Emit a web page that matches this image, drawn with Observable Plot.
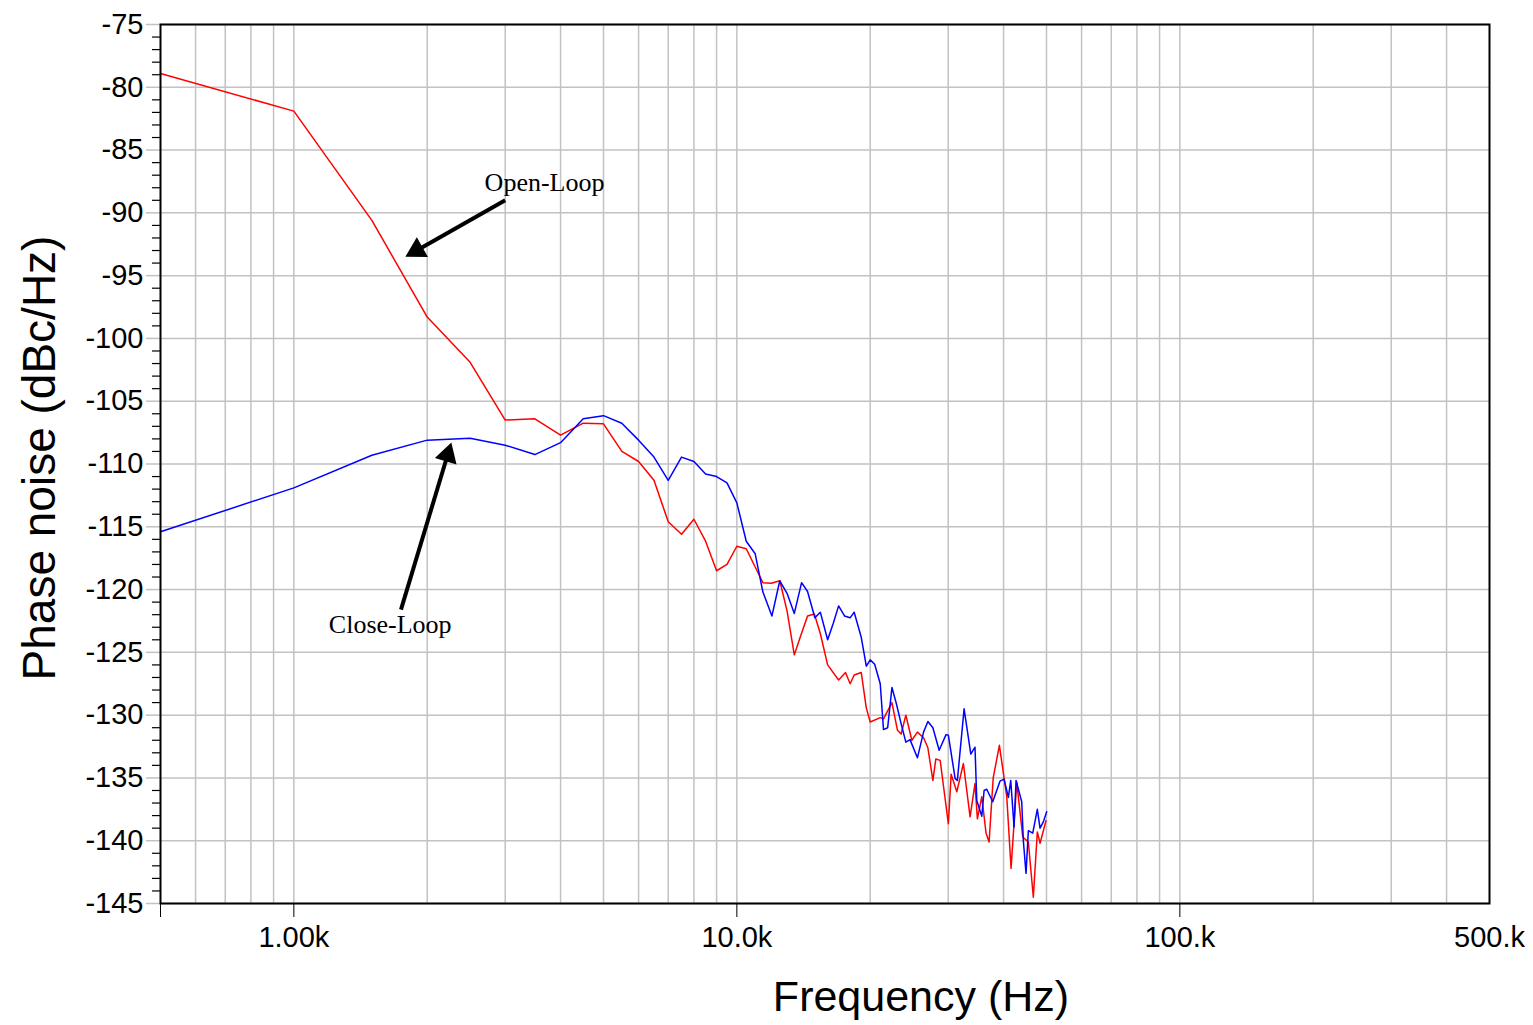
<!DOCTYPE html>
<html>
<head>
<meta charset="utf-8">
<script src="https://cdn.jsdelivr.net/npm/d3@7"></script>
<script src="https://cdn.jsdelivr.net/npm/@observablehq/plot@0.6"></script>
<style>html,body{margin:0;padding:0;background:#fff;}</style>
</head>
<body>
<div id="chart"></div>
<script>
// ---------- data ----------
const openFreq = [500,1000,1500,2000,2500,3000,3500,4000,4500,5000,5500,6000,6500,7000,7500,8000,8500,9000,9500,10000,
  10500,11000,11450,11960,12500,12980,13480,13910,14440,14960,15430,16030,16970,17590,18020,18400,19090,19590,20000,21070,
  21430,22390,23040,23490,24070,24830,25560,26390,26990,27700,28130,28770,30020,30460,31370,32460,33610,34480,34910,35720,
  36520,37100,37900,39140,40670,41590,42840,44190,45500,46690,47670,48350,49870];
const openNoise = [-78.9,-81.9,-90.6,-98.3,-101.9,-106.5,-106.4,-107.7,-106.75,-106.8,-109.0,-109.8,-111.3,-114.6,-115.6,-114.4,-116.15,-118.5,-118.0,-116.55,
  -116.75,-118.2,-119.45,-119.5,-119.3,-121.7,-125.2,-123.75,-122.1,-121.95,-123.5,-126.0,-127.2,-126.6,-127.5,-126.8,-126.6,-129.4,-130.55,-130.2,
  -130.3,-129.0,-131.2,-131.5,-130.0,-132.0,-131.35,-131.8,-132.6,-135.2,-133.5,-133.6,-138.65,-134.7,-136.1,-133.85,-138.1,-135.45,-138.25,-136.5,
  -139.4,-140.1,-135.0,-132.4,-136.5,-142.2,-135.35,-139.7,-140.1,-144.5,-139.3,-140.2,-138.4];

const closeFreq = [500,1000,1500,2000,2500,3000,3500,4000,4500,5000,5500,6000,6500,7000,7500,8000,8500,9000,9500,10000,
  10500,11000,11450,12000,12500,12980,13480,14000,14440,15000,15430,16030,16500,16970,17500,18020,18400,19090,19600,20000,
  20470,21070,21430,21900,22390,22900,23490,24070,24600,25560,26390,26990,27700,28620,29660,30020,31100,31460,32580,33740,
  34480,34800,35720,36150,36650,37810,39280,40100,41010,41520,42240,42680,43960,44330,44950,45500,46550,47670,48350,49180,50050];
const closeNoise = [-115.4,-111.9,-109.3,-108.1,-107.95,-108.5,-109.25,-108.3,-106.4,-106.15,-106.75,-108.1,-109.45,-111.3,-109.45,-109.8,-110.8,-111.0,-111.5,-113.1,
  -116.15,-117.15,-120.2,-122.1,-119.3,-120.3,-121.9,-119.45,-120.15,-122.25,-121.8,-124.0,-122.7,-121.3,-122.1,-122.25,-121.8,-123.8,-126.1,-125.6,
  -125.95,-127.5,-131.15,-131.0,-127.8,-129.05,-130.7,-132.15,-131.95,-133.4,-131.35,-130.5,-131.0,-132.8,-131.55,-131.6,-135.05,-135.2,-129.5,-133.1,
  -132.55,-136.8,-138.05,-136.0,-135.9,-136.9,-135.25,-135.1,-136.55,-135.2,-138.9,-135.2,-136.9,-140.0,-142.6,-139.2,-139.4,-137.5,-139.0,-138.5,-137.7];

// axes / ticks
const xDomain = [500, 500000];
const yDomain = [-145, -75];
const gridFreqs = [600,700,800,900,1000,2000,3000,4000,5000,6000,7000,8000,9000,10000,
  20000,30000,40000,50000,60000,70000,80000,90000,100000,200000,300000,400000];
const xTickValues = [500, 1000, 10000, 100000];
const xLabelValues = [1000, 10000, 100000, 500000];
const xLabelTexts = ["1.00k", "10.0k", "100.k", "500.k"];
const yMajorTicks = [-145,-140,-135,-130,-125,-120,-115,-110,-105,-100,-95,-90,-85,-80,-75];
const yMinorTicks = d3.range(-145, -74).filter(v => v % 5 !== 0);
const xTitle = "Frequency (Hz)";
const yTitle = "Phase noise (dBc/Hz)";

// annotations
const annLabels = ["Open-Loop", "Close-Loop"];
const annLabelFreq = [3680, 1650];
const annLabelNoise = [-87.56, -122.76];
const arrowTailFreq = [3000, 1745];
const arrowTailNoise = [-89.0, -121.6];
const arrowTipFreq = [1755, 2280];
const arrowTipNoise = [-93.65, -108.0];

// ---------- layout ----------
const W = 1533, H = 1025;
const mL = 160, mR = 44, mT = 24, mB = 122;
const headR = 10.8;

const xs = Plot.scale({x: {type: "log", domain: xDomain, range: [mL, W - mR]}});
const ys = Plot.scale({y: {domain: yDomain, range: [H - mB, mT]}});

const openData = openFreq.map((f, i) => ({f, v: openNoise[i]}));
const closeData = closeFreq.map((f, i) => ({f, v: closeNoise[i]}));
const labels = annLabels.map((t, i) => ({t, f: annLabelFreq[i], v: annLabelNoise[i]}));

const headSize = Math.PI * headR * headR;
const apexDist = 2 * Math.sqrt(headSize / (3 * Math.sqrt(3)));
const arrows = annLabels.map((t, i) => {
  const tx = xs.apply(arrowTipFreq[i]), ty = ys.apply(arrowTipNoise[i]);
  const sx = xs.apply(arrowTailFreq[i]), sy = ys.apply(arrowTailNoise[i]);
  const len = Math.hypot(tx - sx, ty - sy);
  const ux = (tx - sx) / len, uy = (ty - sy) / len;
  const cx = tx - ux * apexDist, cy = ty - uy * apexDist;
  return {
    f1: arrowTailFreq[i], v1: arrowTailNoise[i],
    cf: xs.invert(cx), cv: ys.invert(cy),
    angle: Math.atan2(ux, -uy) * 180 / Math.PI
  };
});

const gridColor = "#c2c2c2";

const chart = Plot.plot({
  width: W, height: H,
  marginLeft: mL, marginRight: mR, marginTop: mT, marginBottom: mB,
  style: {fontFamily: "'Liberation Sans', Arial, sans-serif", background: "white", color: "black"},
  x: {type: "log", domain: xDomain},
  y: {domain: yDomain},
  marks: [
    Plot.gridX(gridFreqs, {stroke: gridColor, strokeOpacity: 1, strokeWidth: 1.5}),
    Plot.gridY(yMajorTicks, {stroke: gridColor, strokeOpacity: 1, strokeWidth: 1.5}),
    Plot.axisY(yMajorTicks, {tickSize: 14, stroke: gridColor, strokeWidth: 1.5, text: null, label: null}),
    Plot.axisY(yMinorTicks, {tickSize: 8, stroke: "black", strokeWidth: 1.2, text: null, label: null}),
    Plot.axisY(yMajorTicks, {tickSize: 0, tickPadding: 17, fontSize: 29, tickFormat: d => String(d), label: null}),
    Plot.axisX(xTickValues, {tickSize: 14, stroke: "black", strokeWidth: 1, text: null, label: null}),
    Plot.axisX(xLabelValues, {tickSize: 0, tickPadding: 23, fontSize: 29,
      tickFormat: d => xLabelTexts[xLabelValues.indexOf(d)], label: null}),
    Plot.line(openData, {x: "f", y: "v", stroke: "#ff0000", strokeWidth: 1.5}),
    Plot.line(closeData, {x: "f", y: "v", stroke: "#0000ff", strokeWidth: 1.5}),
    Plot.frame({stroke: "black", strokeWidth: 2}),
    Plot.link(arrows, {x1: "f1", y1: "v1", x2: "cf", y2: "cv", stroke: "black", strokeWidth: 4}),
    Plot.dot(arrows, {x: "cf", y: "cv", rotate: "angle", symbol: "triangle2", r: headR, fill: "black", stroke: "none"}),
    Plot.text(labels, {x: "f", y: "v", text: "t", fontFamily: "'Liberation Serif', 'Times New Roman', serif",
      fontSize: 26, fill: "black", lineAnchor: "middle", textAnchor: "middle"}),
    Plot.text([yTitle], {frameAnchor: "left", dx: -120, dy: -6, rotate: -90, fontSize: 46,
      textAnchor: "middle", lineAnchor: "middle", fill: "black"}),
    Plot.text([xTitle], {frameAnchor: "bottom", dx: 96, dy: 94, fontSize: 43,
      textAnchor: "middle", lineAnchor: "middle", fill: "black"})
  ]
});
document.getElementById("chart").appendChild(chart);
</script>
</body>
</html>
